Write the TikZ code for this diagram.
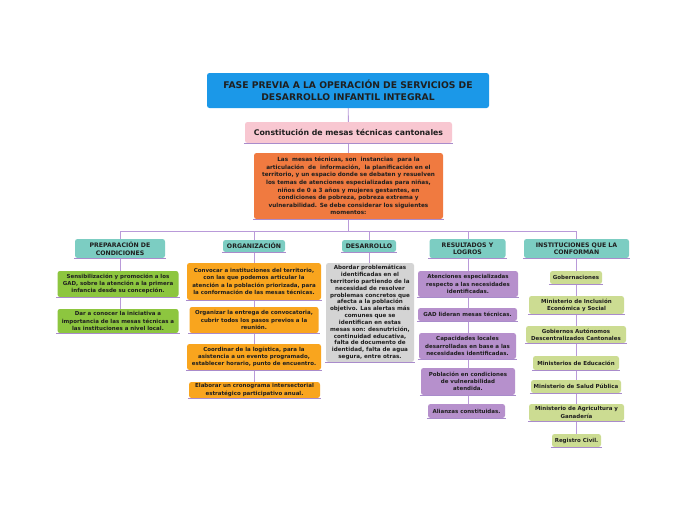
\documentclass[tikz,border=0pt]{standalone}
\usepackage{fontspec}
\setmainfont{DejaVu Sans}
\usetikzlibrary{backgrounds}
\definecolor{titleblue}{HTML}{1B98E8}
\definecolor{pinkc}{HTML}{F8C7D1}
\definecolor{orangec}{HTML}{F07A40}
\definecolor{tealc}{HTML}{7CCDC2}
\definecolor{greenc}{HTML}{8DC63F}
\definecolor{amber}{HTML}{F9A51E}
\definecolor{grayc}{HTML}{D4D4D4}
\definecolor{purplec}{HTML}{B690CC}
\definecolor{olivec}{HTML}{CCDC92}
\definecolor{linec}{HTML}{B99AD9}
\definecolor{ulc}{HTML}{A98BCB}
\tikzset{
  box/.style={rounded corners=2.5pt, inner sep=0pt, align=center, text=black!88},
  ttl/.style={box, fill=titleblue, font=\fontsize{9.2}{12}\selectfont\bfseries},
  pnk/.style={box, fill=pinkc, font=\fontsize{7.8}{9}\selectfont\bfseries},
  mainbox/.style={box, fill=orangec, font=\fontsize{5.7}{7.6}\selectfont\bfseries},
  hdr/.style={box, fill=tealc, font=\fontsize{6.2}{7.4}\selectfont\bfseries},
  sm/.style={box, font=\fontsize{5.5}{7.2}\selectfont\bfseries},
  gr/.style={sm, fill=greenc},
  am/.style={sm, fill=amber},
  gy/.style={sm, fill=grayc, font=\fontsize{5.6}{6.85}\selectfont\bfseries},
  pu/.style={sm, fill=purplec},
  ol/.style={sm, fill=olivec},
  conn/.style={draw=linec, line width=0.9pt},
  ul/.style={draw=ulc, line width=0.7pt}
}
\begin{document}
\begin{tikzpicture}[x=1pt,y=-1pt]
\useasboundingbox (0,0) rectangle (697,520);
\begin{scope}[on background layer]
\fill[white] (0,0) rectangle (697,520);
\end{scope}

% title and top chain
\node[ttl, minimum width=282, minimum height=35] (title) at (348,90.5) {FASE PREVIA A LA OPERACIÓN DE SERVICIOS DE\\DESARROLLO INFANTIL INTEGRAL};
\node[pnk, minimum width=207, minimum height=21] (pink) at (348.5,132.5) {Constitución de mesas técnicas cantonales};
\node[mainbox, minimum width=189, minimum height=66] (main) at (348.5,186) {Las\ \ mesas técnicas, son\ \ instancias\ \ para la\\articulación\ \ de\ \ información,\ \ la planificación en el\\territorio, y un espacio donde se debaten y resuelven\\los temas de atenciones especializadas para niñas,\\niños de 0 a 3 años y mujeres gestantes, en\\condiciones de pobreza, pobreza extrema y\\vulnerabilidad. Se debe considerar los siguientes\\momentos:};

% bar coordinates
\coordinate (b1) at (120,231);
\coordinate (b2) at (254,231);
\coordinate (bm) at (348.5,231);
\coordinate (b3) at (369,231);
\coordinate (b4) at (468,231);
\coordinate (b5) at (576,231);

% headers
\node[hdr, minimum width=90, minimum height=19] (h1) at (120,248.5) {PREPARACIÓN DE\\CONDICIONES};
\node[hdr, minimum width=62, minimum height=12] (h2) at (254,246) {ORGANIZACIÓN};
\node[hdr, minimum width=54, minimum height=12] (h3) at (369,246) {DESARROLLO};
\node[hdr, minimum width=76, minimum height=19] (h4) at (467.5,248.5) {RESULTADOS Y\\LOGROS};
\node[hdr, minimum width=105, minimum height=19] (h5) at (576.5,248.5) {INSTITUCIONES QUE LA\\CONFORMAN};

% column 1
\node[gr, minimum width=121, minimum height=26] (g1) at (118,284) {Sensibilización y promoción a los\\GAD, sobre la atención a la primera\\infancia desde su concepción.};
\node[gr, minimum width=121, minimum height=24] (g2) at (118,321) {Dar a conocer la iniciativa a\\importancia de las mesas técnicas a\\las instituciones a nivel local.};

% column 2
\node[am, minimum width=134, minimum height=37] (o1) at (254,281.5) {Convocar a instituciones del territorio,\\con las que podemos articular la\\atención a la población priorizada, para\\la conformación de las mesas técnicas.};
\node[am, minimum width=129, minimum height=26] (o2) at (254,320) {Organizar la entrega de convocatoria,\\cubrir todos los pasos previos a la\\reunión.};
\node[am, minimum width=134, minimum height=26] (o3) at (254,357) {Coordinar de la logística, para la\\asistencia a un evento programado,\\establecer horario, punto de encuentro.};
\node[am, minimum width=131, minimum height=16] (o4) at (254.5,390) {Elaborar un cronograma intersectorial\\estratégico participativo anual.};

% column 3
\node[gy, minimum width=88, minimum height=99] (d1) at (370,312.5) {Abordar problemáticas\\identificadas en el\\territorio partiendo de la\\necesidad de resolver\\problemas concretos que\\afecta a la población\\objetivo. Las alertas más\\comunes que se\\identifican en estas\\mesas son: desnutrición,\\continuidad educativa,\\falta de documento de\\identidad, falta de agua\\segura, entre otras.};

% column 4
\node[pu, minimum width=100, minimum height=26] (p1) at (468,284) {Atenciones especializadas\\respecto a las necesidades\\identificadas.};
\node[pu, minimum width=99, minimum height=13] (p2) at (467.5,314.5) {GAD lideran mesas técnicas.};
\node[pu, minimum width=97, minimum height=26] (p3) at (467.5,346) {Capacidades locales\\desarrolladas en base a las\\necesidades identificadas.};
\node[pu, minimum width=94, minimum height=27] (p4) at (468,381.5) {Población en condiciones\\de vulnerabilidad\\atendida.};
\node[pu, minimum width=77, minimum height=14] (p5) at (466.5,411) {Alianzas constituidas.};

% column 5
\node[ol, minimum width=52, minimum height=13] (i1) at (576,277.5) {Gobernaciones};
\node[ol, minimum width=95, minimum height=18] (i2) at (576.5,305) {Ministerio de Inclusión\\Económica y Social};
\node[ol, minimum width=100, minimum height=17] (i3) at (576,334.5) {Gobiernos Autónomos\\Descentralizados Cantonales};
\node[ol, minimum width=86, minimum height=14] (i4) at (576,363) {Ministerios de Educación};
\node[ol, minimum width=90, minimum height=13] (i5) at (576,386.5) {Ministerio de Salud Pública};
\node[ol, minimum width=95, minimum height=17] (i6) at (576.5,412.5) {Ministerio de Agricultura y\\Ganadería};
\node[ol, minimum width=49, minimum height=13] (i7) at (576.5,440.5) {Registro Civil.};

% underlines
\foreach \n in {pink,main,h1,h2,h3,h4,h5,g1,g2,o1,o2,o3,o4,d1,p1,p2,p3,p4,p5,i1,i2,i3,i4,i5,i6,i7}{
  \draw[ul] ([yshift=-0.6pt,xshift=-1pt]\n.south west) -- ([yshift=-0.6pt,xshift=1pt]\n.south east);
}

% connectors
\begin{scope}[on background layer]
\draw[conn] (title) -- (pink);
\draw[conn] (pink) -- (main);
\draw[conn] (main) -- (bm);
\draw[conn] (b1) -- (b5);
\draw[conn] (b1) -- (h1);
\draw[conn] (b2) -- (h2);
\draw[conn] (b3) -- (h3);
\draw[conn] (b4) -- (h4.north -| b4);
\draw[conn] (b5) -- (h5.north -| b5);
\draw[conn] (h1) -- (g1.north -| b1);
\draw[conn] (g1.south -| b1) -- (g2.north -| b1);
\draw[conn] (h2) -- (o1);
\draw[conn] (o1) -- (o2);
\draw[conn] (o2) -- (o3);
\draw[conn] (o3) -- (o4.north -| b2);
\draw[conn] (h3) -- (d1.north -| b3);
\draw[conn] (h4.south -| b4) -- (p1.north -| b4);
\draw[conn] (p1.south -| b4) -- (p2.north -| b4);
\draw[conn] (p2.south -| b4) -- (p3.north -| b4);
\draw[conn] (p3.south -| b4) -- (p4.north -| b4);
\draw[conn] (p4.south -| b4) -- (p5.north -| b4);
\draw[conn] (h5.south -| b5) -- (i1.north -| b5);
\draw[conn] (i1) -- (i2.north -| b5);
\draw[conn] (i2.south -| b5) -- (i3.north -| b5);
\draw[conn] (i3) -- (i4);
\draw[conn] (i4) -- (i5);
\draw[conn] (i5) -- (i6.north -| b5);
\draw[conn] (i6.south -| b5) -- (i7.north -| b5);
\end{scope}
\end{tikzpicture}
\end{document}
